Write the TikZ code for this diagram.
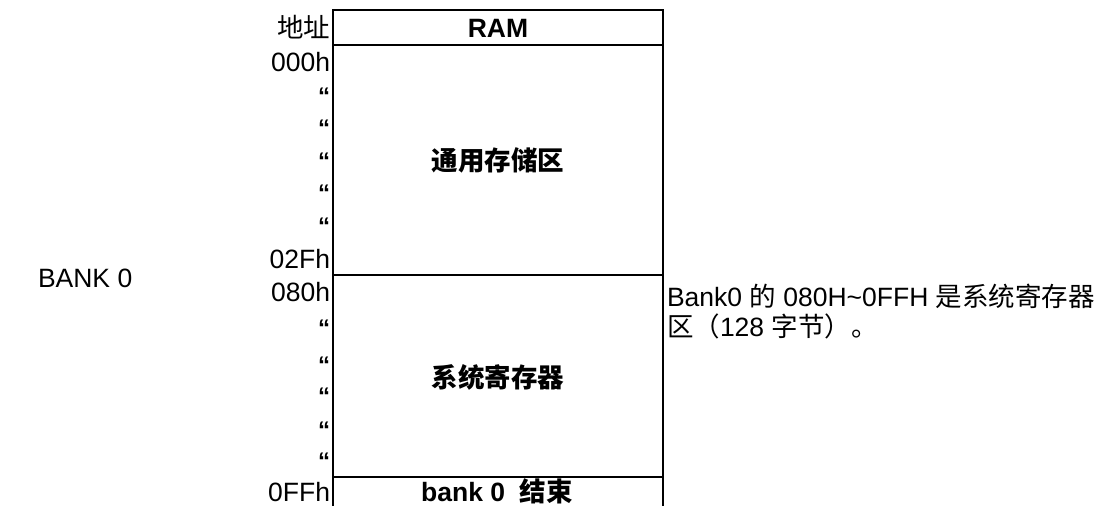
\documentclass[tikz,border=0pt]{standalone}
\usepackage{fontspec}
\setmainfont{Liberation Sans}
\newfontfamily\cjk{Noto Sans CJK SC}
\begin{document}
\begin{tikzpicture}[x=1pt,y=-1pt,
  every node/.style={inner sep=0pt,outer sep=0pt,font=\fontsize{26.5}{30}\selectfont},
  addr/.style={anchor=east},
  ditto/.style={anchor=base east,font=\fontsize{24}{30}\selectfont\bfseries},
  celltext/.style={font=\fontsize{26.5}{30}\selectfont\bfseries},
  note/.style={anchor=west,font=\fontsize{26.5}{30}\selectfont},
  frame/.style={line width=2pt,black}]
\useasboundingbox (0,0) rectangle (1104,506);
% frame
\coordinate (tl) at (333,10);
\coordinate (tr) at (663,10);
\coordinate (bl) at (333,506);
\coordinate (br) at (663,506);
\coordinate (h1l) at (333,45);
\coordinate (h1r) at (663,45);
\coordinate (h2l) at (333,275);
\coordinate (h2r) at (663,275);
\coordinate (h3l) at (333,477);
\coordinate (h3r) at (663,477);
\draw[frame] (bl) -- (tl) -- (tr) -- (br);
\draw[frame] (h1l) -- (h1r);
\draw[frame] (h2l) -- (h2r);
\draw[frame] (h3l) -- (h3r);
% cell texts
\node[celltext] (ram) at (498,28) {RAM};
\node[celltext] (gen) at (498,160) {\cjk\bfseries 通用存储区};
\node[celltext] (sys) at (498,377) {\cjk\bfseries 系统寄存器};
\node[celltext] (end) at (497,491) {bank 0\ \ {\cjk\bfseries 结束}};
% addresses
\node[addr] (addrhead) at (330,27) {\cjk 地址};
\node[addr] (a000) at (330,62) {000h};
\node[ditto] (d1) at (330,104) {“};
\node[ditto] (d2) at (330,136) {“};
\node[ditto] (d3) at (330,169) {“};
\node[ditto] (d4) at (330,201) {“};
\node[ditto] (d5) at (330,234) {“};
\node[addr] (a02f) at (330,259) {02Fh};
\node[addr] (a080) at (330,292) {080h};
\node[ditto] (d6) at (330,336) {“};
\node[ditto] (d7) at (330,373) {“};
\node[ditto] (d8) at (330,404) {“};
\node[ditto] (d9) at (330,438) {“};
\node[ditto] (d10) at (330,469) {“};
\node[addr] (a0ff) at (330,492) {0FFh};
% bank label
\node[anchor=west] (bank) at (38,278) {BANK 0};
% note
\node[note] (note1) at (667,296) {Bank0 {\cjk 的} 080H\textasciitilde 0FFH {\cjk 是系统寄存器}};
\node[note] (note2) at (667,326) {{\cjk 区（}128 {\cjk 字节）。}};
\end{tikzpicture}
\end{document}
